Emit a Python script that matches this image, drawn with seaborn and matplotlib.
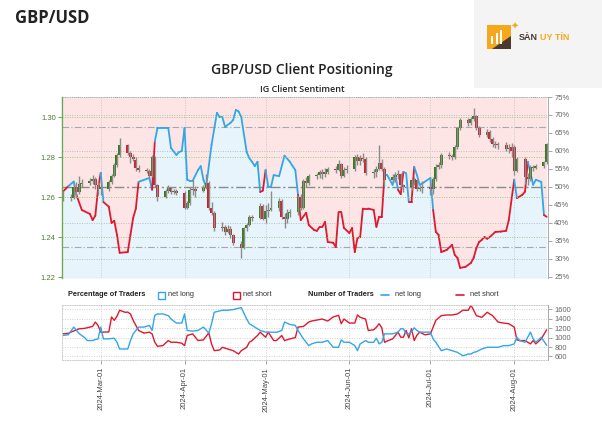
import numpy as np
import pandas as pd
import seaborn as sns
import matplotlib.pyplot as plt
import matplotlib.dates as mdates
from matplotlib.patches import Rectangle, Polygon

sns.set_style('white')
plt.rcParams['font.family'] = ['Liberation Sans', 'DejaVu Sans']

# ---- price candles (daily, GBP/USD) ----
candle_dates = pd.bdate_range('2024-02-16', '2024-08-13')
opens = [
    1.2600, 1.2595, 1.2595, 1.2650, 1.2625, 1.2665, 1.2670, 1.2680, 1.2690, 1.2660,
    1.2640, 1.2640, 1.2675, 1.2705, 1.2760, 1.2810, 1.2860, 1.2820, 1.2800, 1.2785, 1.2745,
    1.2735, 1.2730, 1.2705, 1.2800, 1.2660, 1.2600, 1.2630, 1.2645, 1.2625, 1.2630,
    1.2620, 1.2545, 1.2570, 1.2635, 1.2640, 1.2630, 1.2645, 1.2670, 1.2545, 1.2520, 1.2445,
    1.2450, 1.2425, 1.2440, 1.2410, 1.2365, 1.2345, 1.2445, 1.2460, 1.2500, 1.2495, 1.2555,
    1.2490, 1.2530, 1.2535, 1.2545, 1.2580, 1.2500, 1.2490, 1.2520, 1.2525, 1.2600, 1.2545,
    1.2680, 1.2670, 1.2705, 1.2710, 1.2725, 1.2715, 1.2725, 1.2740, 1.2735, 1.2765, 1.2705, 1.2735,
    1.2740, 1.2800, 1.2780, 1.2795, 1.2790, 1.2720, 1.2725, 1.2740, 1.2770, 1.2740,
    1.2685, 1.2700, 1.2710, 1.2715, 1.2660, 1.2650, 1.2685, 1.2685, 1.2640, 1.2645,
    1.2650, 1.2640, 1.2690, 1.2750, 1.2760, 1.2810, 1.2805, 1.2800, 1.2850, 1.2945,
    1.2985, 1.2970, 1.2990, 1.3005, 1.2945, 1.2910, 1.2925, 1.2890, 1.2865, 1.2860,
    1.2860, 1.2840, 1.2850,
    1.2850, 1.2730, 1.2790, 1.2700, 1.2690, 1.2750, 1.2745, 1.2755, 1.2775,
]
closes = [
    1.2595, 1.2600, 1.2650, 1.2625, 1.2665, 1.2670, 1.2680, 1.2690, 1.2660, 1.2640,
    1.2650, 1.2675, 1.2705, 1.2760, 1.2810, 1.2860, 1.2820, 1.2800, 1.2790, 1.2745, 1.2735,
    1.2730, 1.2705, 1.2800, 1.2660, 1.2600, 1.2630, 1.2645, 1.2625, 1.2630, 1.2620,
    1.2545, 1.2570, 1.2635, 1.2640, 1.2630, 1.2645, 1.2670, 1.2545, 1.2520, 1.2445, 1.2450,
    1.2425, 1.2440, 1.2410, 1.2370, 1.2345, 1.2445, 1.2460, 1.2500, 1.2495, 1.2555, 1.2490,
    1.2530, 1.2535, 1.2545, 1.2580, 1.2500, 1.2490, 1.2520, 1.2525, 1.2600, 1.2545, 1.2680,
    1.2670, 1.2705, 1.2710, 1.2725, 1.2715, 1.2725, 1.2740, 1.2735, 1.2765, 1.2705, 1.2735, 1.2740,
    1.2800, 1.2780, 1.2795, 1.2790, 1.2720, 1.2725, 1.2740, 1.2770, 1.2740, 1.2685,
    1.2700, 1.2710, 1.2715, 1.2660, 1.2650, 1.2685, 1.2685, 1.2640, 1.2645, 1.2650,
    1.2640, 1.2690, 1.2750, 1.2760, 1.2810, 1.2805, 1.2800, 1.2850, 1.2945, 1.2985,
    1.2970, 1.2990, 1.3005, 1.2945, 1.2910, 1.2925, 1.2890, 1.2865, 1.2860, 1.2860,
    1.2840, 1.2845, 1.2830,
    1.2730, 1.2790, 1.2700, 1.2690, 1.2750, 1.2745, 1.2755, 1.2775, 1.2865,
]
highs = [
    1.2630, 1.2615, 1.2665, 1.2675, 1.2705, 1.2690, 1.2695, 1.2710, 1.2700, 1.2680,
    1.2680, 1.2685, 1.2715, 1.2770, 1.2820, 1.2895, 1.2865, 1.2830, 1.2815, 1.2800, 1.2760,
    1.2745, 1.2740, 1.2810, 1.2805, 1.2665, 1.2640, 1.2660, 1.2650, 1.2640, 1.2640,
    1.2630, 1.2580, 1.2650, 1.2685, 1.2655, 1.2660, 1.2715, 1.2680, 1.2575, 1.2530, 1.2475,
    1.2460, 1.2460, 1.2455, 1.2415, 1.2380, 1.2450, 1.2470, 1.2510, 1.2510, 1.2570, 1.2565,
    1.2560, 1.2570, 1.2630, 1.2595, 1.2590, 1.2520, 1.2540, 1.2540, 1.2610, 1.2615, 1.2690,
    1.2700, 1.2715, 1.2720, 1.2735, 1.2740, 1.2745, 1.2750, 1.2755, 1.2785, 1.2770, 1.2750, 1.2760,
    1.2810, 1.2815, 1.2810, 1.2820, 1.2800, 1.2740, 1.2755, 1.2860, 1.2790, 1.2750,
    1.2715, 1.2725, 1.2735, 1.2720, 1.2665, 1.2695, 1.2700, 1.2690, 1.2660, 1.2680,
    1.2690, 1.2700, 1.2765, 1.2775, 1.2820, 1.2825, 1.2815, 1.2860, 1.2950, 1.2995,
    1.2995, 1.3000, 1.3045, 1.3010, 1.2955, 1.2940, 1.2935, 1.2900, 1.2880, 1.2875,
    1.2875, 1.2865, 1.2870,
    1.2860, 1.2800, 1.2800, 1.2720, 1.2760, 1.2760, 1.2765, 1.2780, 1.2870,
]
lows = [
    1.2580, 1.2580, 1.2590, 1.2600, 1.2615, 1.2650, 1.2660, 1.2665, 1.2640, 1.2610,
    1.2610, 1.2630, 1.2665, 1.2700, 1.2750, 1.2800, 1.2810, 1.2770, 1.2780, 1.2730, 1.2725,
    1.2720, 1.2695, 1.2700, 1.2650, 1.2580, 1.2595, 1.2620, 1.2615, 1.2615, 1.2610,
    1.2540, 1.2540, 1.2560, 1.2610, 1.2600, 1.2625, 1.2640, 1.2535, 1.2510, 1.2430, 1.2430,
    1.2410, 1.2420, 1.2395, 1.2360, 1.2295, 1.2340, 1.2430, 1.2455, 1.2480, 1.2490, 1.2485,
    1.2470, 1.2500, 1.2530, 1.2530, 1.2490, 1.2445, 1.2470, 1.2500, 1.2510, 1.2535, 1.2540,
    1.2650, 1.2660, 1.2690, 1.2695, 1.2690, 1.2700, 1.2715, 1.2720, 1.2730, 1.2695, 1.2700, 1.2720,
    1.2730, 1.2760, 1.2760, 1.2775, 1.2710, 1.2695, 1.2700, 1.2735, 1.2730, 1.2655,
    1.2670, 1.2675, 1.2690, 1.2650, 1.2625, 1.2635, 1.2660, 1.2630, 1.2630, 1.2620,
    1.2610, 1.2615, 1.2680, 1.2740, 1.2745, 1.2790, 1.2785, 1.2790, 1.2840, 1.2935,
    1.2955, 1.2960, 1.2980, 1.2935, 1.2900, 1.2900, 1.2875, 1.2850, 1.2845, 1.2840,
    1.2830, 1.2820, 1.2800,
    1.2710, 1.2725, 1.2665, 1.2660, 1.2680, 1.2730, 1.2740, 1.2745, 1.2765,
]

# ---- IG client sentiment: % of traders net long ----
sent_dates = [
    '2024-02-16', '2024-02-18', '2024-02-20', '2024-02-21', '2024-02-23', '2024-02-26',
    '2024-02-27', '2024-02-28', '2024-02-29', '2024-03-01', '2024-03-02', '2024-03-04',
    '2024-03-05', '2024-03-06', '2024-03-07', '2024-03-08', '2024-03-11', '2024-03-12',
    '2024-03-13', '2024-03-14', '2024-03-15', '2024-03-16', '2024-03-19', '2024-03-20',
    '2024-03-21', '2024-03-22', '2024-03-26', '2024-03-27', '2024-03-29', '2024-03-30',
    '2024-03-31', '2024-04-01', '2024-04-02', '2024-04-03', '2024-04-04', '2024-04-06',
    '2024-04-07', '2024-04-08', '2024-04-09', '2024-04-11', '2024-04-13', '2024-04-14',
    '2024-04-15', '2024-04-16', '2024-04-18', '2024-04-19', '2024-04-20', '2024-04-21',
    '2024-04-22', '2024-04-24', '2024-04-25', '2024-04-26', '2024-04-27', '2024-04-28',
    '2024-04-29', '2024-04-30', '2024-05-01', '2024-05-02', '2024-05-03', '2024-05-04',
    '2024-05-06', '2024-05-08', '2024-05-10', '2024-05-11', '2024-05-12', '2024-05-13',
    '2024-05-14', '2024-05-16', '2024-05-17', '2024-05-19', '2024-05-20', '2024-05-21',
    '2024-05-22', '2024-05-23', '2024-05-24', '2024-05-26', '2024-05-27', '2024-05-28',
    '2024-05-29', '2024-05-30', '2024-06-01', '2024-06-02', '2024-06-03', '2024-06-04',
    '2024-06-05', '2024-06-06', '2024-06-08', '2024-06-10', '2024-06-11', '2024-06-12',
    '2024-06-13', '2024-06-14', '2024-06-15', '2024-06-17', '2024-06-18', '2024-06-19',
    '2024-06-20', '2024-06-21', '2024-06-22', '2024-06-23', '2024-06-24', '2024-06-25',
    '2024-06-26', '2024-06-27', '2024-06-28', '2024-07-01', '2024-07-02', '2024-07-03',
    '2024-07-04', '2024-07-05', '2024-07-06', '2024-07-07', '2024-07-09', '2024-07-10',
    '2024-07-11', '2024-07-12', '2024-07-14', '2024-07-16', '2024-07-17', '2024-07-18',
    '2024-07-19', '2024-07-20', '2024-07-21', '2024-07-22', '2024-07-23', '2024-07-25',
    '2024-07-27', '2024-07-29', '2024-07-30', '2024-08-01', '2024-08-02', '2024-08-04',
    '2024-08-05', '2024-08-06', '2024-08-07', '2024-08-08', '2024-08-09', '2024-08-11',
    '2024-08-12', '2024-08-13',
]
sent_pct = [
    48.7, 50.2, 51.5, 47.8, 43.6, 42.5,
    40.8, 42.0, 49.5, 53.9, 45.8, 44.5,
    40.0, 40.6, 36.7, 31.7, 31.9, 36.7,
    41.4, 44.0, 51.4, 51.7, 52.5, 49.2,
    62.6, 66.4, 66.4, 60.8, 58.9, 59.7,
    60.0, 66.4, 52.0, 51.7, 51.7, 54.7,
    55.8, 52.0, 50.0, 61.7, 70.6, 69.4,
    69.4, 66.7, 67.8, 68.6, 71.4, 71.0,
    69.4, 59.7, 58.0, 57.0, 55.8, 57.0,
    48.6, 49.0, 54.7, 50.0, 50.0, 53.3,
    53.0, 58.7, 57.0, 55.8, 54.7, 47.8,
    40.8, 42.8, 39.4, 38.0, 37.8, 38.9,
    38.9, 40.3, 34.7, 34.5, 33.3, 43.0,
    43.0, 38.6, 37.2, 38.6, 31.9, 35.8,
    36.1, 44.0, 44.0, 43.6, 38.9, 41.7,
    41.7, 53.3, 53.3, 50.6, 53.3, 49.2,
    48.0, 54.2, 53.8, 45.8, 45.8, 55.6,
    53.3, 50.6, 51.0, 52.5, 43.6, 37.5,
    36.7, 31.9, 32.2, 32.5, 33.9, 31.1,
    30.3, 27.5, 27.8, 28.9, 30.3, 33.0,
    34.7, 35.3, 36.1, 35.6, 36.1, 37.5,
    37.6, 37.8, 40.8, 52.0, 46.9, 47.8,
    48.7, 57.0, 54.0, 50.6, 52.0, 51.4,
    42.2, 41.7,
]

# ---- number of traders ----
count_dates = [
    '2024-02-16', '2024-02-18', '2024-02-20', '2024-02-22', '2024-02-24', '2024-02-25',
    '2024-02-27', '2024-02-28', '2024-02-29', '2024-03-01', '2024-03-02', '2024-03-04',
    '2024-03-05', '2024-03-06', '2024-03-07', '2024-03-08', '2024-03-10', '2024-03-11',
    '2024-03-12', '2024-03-13', '2024-03-15', '2024-03-17', '2024-03-19', '2024-03-20',
    '2024-03-21', '2024-03-22', '2024-03-24', '2024-03-26', '2024-03-27', '2024-03-29',
    '2024-03-31', '2024-04-01', '2024-04-02', '2024-04-04', '2024-04-06', '2024-04-08',
    '2024-04-10', '2024-04-11', '2024-04-12', '2024-04-14', '2024-04-15', '2024-04-17',
    '2024-04-19', '2024-04-21', '2024-04-22', '2024-04-24', '2024-04-25', '2024-04-26',
    '2024-04-28', '2024-04-29', '2024-05-01', '2024-05-02', '2024-05-04', '2024-05-05',
    '2024-05-07', '2024-05-08', '2024-05-10', '2024-05-12', '2024-05-13', '2024-05-15',
    '2024-05-17', '2024-05-18', '2024-05-20', '2024-05-22', '2024-05-24', '2024-05-26',
    '2024-05-28', '2024-05-29', '2024-05-30', '2024-06-01', '2024-06-03', '2024-06-04',
    '2024-06-05', '2024-06-07', '2024-06-08', '2024-06-10', '2024-06-11', '2024-06-12',
    '2024-06-13', '2024-06-14', '2024-06-16', '2024-06-17', '2024-06-19', '2024-06-20',
    '2024-06-21', '2024-06-22', '2024-06-23', '2024-06-24', '2024-06-25', '2024-06-26',
    '2024-06-27', '2024-06-29', '2024-07-01', '2024-07-02', '2024-07-03', '2024-07-05',
    '2024-07-07', '2024-07-09', '2024-07-11', '2024-07-13', '2024-07-15', '2024-07-16',
    '2024-07-17', '2024-07-18', '2024-07-20', '2024-07-22', '2024-07-24', '2024-07-26',
    '2024-07-28', '2024-07-30', '2024-08-01', '2024-08-02', '2024-08-03', '2024-08-05',
    '2024-08-07', '2024-08-08', '2024-08-09', '2024-08-11', '2024-08-13',
]
long_count = [
    1044, 1060, 1222, 1086, 1000, 937,
    937, 960, 972, 1222, 972, 972,
    980, 987, 901, 758, 758, 758,
    937, 1079, 1222, 1222, 1258, 1151,
    1472, 1500, 1500, 1464, 1393, 1308,
    1308, 1500, 1151, 1137, 1151, 1222,
    1094, 1293, 1536, 1565, 1579, 1579,
    1593, 1622, 1636, 1393, 1293, 1258,
    1186, 1151, 1115, 1115, 1115, 1110,
    1151, 1329, 1279, 1258, 1151, 972,
    830, 866, 901, 901, 937, 794,
    794, 951, 901, 901, 830, 723,
    866, 937, 901, 901, 987, 866,
    900, 1079, 1079, 1079, 1115, 1186,
    1186, 1079, 1079, 1120, 1208, 1151,
    1115, 1115, 1115, 972, 901, 723,
    758, 723, 687, 615, 651, 651,
    687, 700, 758, 794, 794, 794,
    830, 830, 866, 1008, 937, 901,
    1115, 972, 901, 1008, 837,
]
short_count = [
    1079, 1090, 1140, 1186, 1195, 1208,
    1236, 1329, 1258, 1115, 1115, 1120,
    1436, 1365, 1450, 1579, 1536, 1540,
    1500, 1365, 1151, 1094, 1115, 1079,
    901, 815, 830, 937, 901, 901,
    880, 830, 1044, 1079, 937, 951,
    1101, 866, 723, 737, 794, 758,
    723, 651, 723, 794, 901, 937,
    1044, 1115, 1008, 1115, 937, 937,
    1044, 937, 972, 1000, 1222, 1236,
    1329, 1350, 1372, 1393, 1350, 1436,
    1472, 1293, 1393, 1308, 1308, 1479,
    1429, 1393, 1151, 1165, 1220, 1293,
    1208, 901, 951, 972, 1115, 1008,
    1008, 1151, 994, 1186, 937, 1050,
    1115, 1058, 1079, 1222, 1365, 1464,
    1479, 1479, 1500, 1579, 1579, 1686,
    1579, 1464, 1429, 1536, 1464, 1329,
    1308, 1293, 1222, 951, 937, 937,
    866, 937, 866, 972, 1165,
]

RED = '#e0182d'
BLUE = '#33a6e8'
PINK = '#fde5e6'
LBLUE = '#e7f4fc'
GREEN_AX = '#6aa84f'

W, H = 602, 426
fig = plt.figure(figsize=(W / 100, H / 100), dpi=100)


def fx(x):
    return x / W


def fy(y):
    return 1 - y / H


x0 = pd.Timestamp('2024-02-15 16:00')
x1 = pd.Timestamp('2024-08-13 12:00')

# ---- header ----
fig.text(fx(15), fy(18), 'GBP/USD', fontsize=12, fontweight='bold',
         family=['Open Sans', 'DejaVu Sans'], color='#222', va='center')
fig.patches.append(Rectangle((fx(474), fy(88)), fx(128), 88 / H, transform=fig.transFigure,
                             facecolor='#f4f4f4', edgecolor='none', zorder=0))
fig.patches.append(Rectangle((fx(487), fy(49)), fx(24), 24 / H, transform=fig.transFigure,
                             facecolor='#f6a81d', edgecolor='none', zorder=1))
fig.patches.append(Polygon([(fx(511), fy(49)), (fx(511), fy(36)), (fx(492), fy(49))],
                           closed=True, transform=fig.transFigure, facecolor='#4b3b2e',
                           edgecolor='none', zorder=2))
for bx, bh in [(491, 8), (495.5, 11), (500, 14)]:
    fig.patches.append(Rectangle((fx(bx), fy(44)), fx(2.4), bh / H, transform=fig.transFigure,
                                 facecolor='white', edgecolor='none', zorder=3))
fig.text(fx(515), fy(27), '✦', fontsize=7, color='#f6a81d', ha='center', va='center')
fig.text(fx(519), fy(38), 'SÀN', fontsize=6.5, fontweight='bold', color='#4b3b2e', va='center')
fig.text(fx(540), fy(38), 'UY TÍN', fontsize=6.5, fontweight='bold', color='#f6a81d', va='center')

fig.text(fx(302), fy(70), 'GBP/USD Client Positioning', fontsize=10, ha='center', va='center',
         family=['Open Sans', 'DejaVu Sans'], fontweight='semibold', color='#222')
fig.text(fx(302), fy(90), 'IG Client Sentiment', fontsize=6.5, ha='center', va='center',
         family=['Open Sans', 'DejaVu Sans'], fontweight='semibold', color='#222')

# ---- main panel: sentiment background (right axis) ----
ax_pct = fig.add_axes([fx(62), fy(278), fx(486), 181 / H])
ax_px = ax_pct.twinx()   # price candles drawn on top

sx = pd.to_datetime(sent_dates)
sp = np.array(sent_pct)
ax_pct.fill_between(sx, sp, 75, color=PINK, lw=0)
ax_pct.fill_between(sx, 24.7, sp, color=LBLUE, lw=0)
for lvl in [30, 40, 60, 70, 75]:
    ax_pct.axhline(lvl, color='#bdbdbd', lw=0.7, ls=(0, (1, 1.5)))
for lvl in [100 / 3, 200 / 3]:
    ax_pct.axhline(lvl, color='#a8a8a8', lw=0.8, ls=(0, (6, 2, 1, 2)))
ax_pct.axhline(50, color='#8a8a8a', lw=1.0, ls=(0, (7, 2, 1.5, 2)))
for m in pd.date_range('2024-03-01', '2024-08-01', freq='MS'):
    ax_pct.axvline(m, color='#c8c8c8', lw=0.7, ls=(0, (1, 1.5)))
for i in range(len(sp) - 1):
    c = BLUE if sp[i] >= 50 else RED
    ax_pct.plot(sx[i:i + 2], sp[i:i + 2], color=c, lw=1.3, solid_capstyle='round')
ax_pct.set_ylim(24.7, 75)
ax_pct.set_xlim(x0, x1)
ax_pct.yaxis.tick_right()
ax_pct.yaxis.set_label_position('right')
ax_pct.set_yticks(range(25, 80, 5))
ax_pct.set_yticklabels([f'{v}%' for v in range(25, 80, 5)])
ax_pct.tick_params(axis='y', labelsize=5.5, labelcolor='#666', color='#999', length=3,
                   width=0.6, pad=1.5, right=True, left=False, labelright=True, labelleft=False)
ax_pct.set_xticks([])
for s in ['top', 'bottom', 'left']:
    ax_pct.spines[s].set_visible(False)
ax_pct.spines['right'].set_color('#aaaaaa')
ax_pct.spines['right'].set_linewidth(0.7)

# ---- price candles ----
ax_px.patch.set_alpha(0)
cd = candle_dates
o = np.array(opens)
c_ = np.array(closes)
hi = np.array(highs)
lo = np.array(lows)
cols = np.where(c_ >= o, '#3a7a1f', '#c8232c')
ax_px.vlines(cd, lo, hi, color='#8c8c8c', lw=1.0)
body_lo = np.minimum(o, c_)
body_h = np.maximum(np.abs(c_ - o), 0.0004)
ax_px.bar(cd, body_h, bottom=body_lo, width=1.1, color=cols, linewidth=0)
for lvl in [1.24, 1.26, 1.28, 1.30]:
    ax_px.axhline(lvl, color='#9cc97d', lw=0.7, ls=(0, (1, 1.5)), zorder=0)
ax_px.axhline(1.2197, color=GREEN_AX, lw=0.8, ls=(0, (1, 1)))
ax_px.axhline(1.3098, color='#aaaaaa', lw=0.7, ls=(0, (1, 1)))
ax_px.set_ylim(1.2195, 1.31)
ax_px.set_xlim(x0, x1)
ax_px.yaxis.tick_left()
ax_px.set_yticks([1.22, 1.24, 1.26, 1.28, 1.30])
ax_px.set_yticklabels(['1.22', '1.24', '1.26', '1.28', '1.30'])
ax_px.tick_params(axis='y', labelsize=5.5, labelcolor='#4f7a38', color=GREEN_AX, length=3,
                  width=0.7, pad=1.5, left=True, right=False, labelleft=True, labelright=False)
ax_px.set_xticks([])
for s in ['top', 'bottom', 'right']:
    ax_px.spines[s].set_visible(False)
ax_px.spines['left'].set_color(GREEN_AX)
ax_px.spines['left'].set_linewidth(1.0)

# ---- legend row ----
ly = fy(295)
fig.text(fx(68), ly, 'Percentage of Traders', fontsize=5.3, fontweight='bold', va='center', color='#222')
fig.patches.append(Rectangle((fx(158), fy(298.5)), fx(6.5), 6.5 / H, transform=fig.transFigure,
                             facecolor='white', edgecolor=BLUE, lw=1.0))
fig.text(fx(168), ly, 'net long', fontsize=5.3, va='center', color='#333')
fig.patches.append(Rectangle((fx(233), fy(298.5)), fx(6.5), 6.5 / H, transform=fig.transFigure,
                             facecolor='white', edgecolor=RED, lw=1.0))
fig.text(fx(243), ly, 'net short', fontsize=5.3, va='center', color='#333')
fig.text(fx(308), ly, 'Number of Traders', fontsize=5.3, fontweight='bold', va='center', color='#222')
fig.lines.append(plt.Line2D([fx(381), fx(389)], [ly, ly], transform=fig.transFigure, color=BLUE, lw=1.2))
fig.text(fx(395), ly, 'net long', fontsize=5.3, va='center', color='#333')
fig.lines.append(plt.Line2D([fx(456), fx(464)], [ly, ly], transform=fig.transFigure, color=RED, lw=1.2))
fig.text(fx(470), ly, 'net short', fontsize=5.3, va='center', color='#333')

# ---- lower panel: number of traders ----
ax_n = fig.add_axes([fx(62), fy(360), fx(486), 55 / H])
cnt = pd.DataFrame({'date': pd.to_datetime(count_dates), 'long': long_count, 'short': short_count})
for lvl in range(600, 1700, 200):
    ax_n.axhline(lvl, color='#d0d0d0', lw=0.7, ls=(0, (1, 1.5)))
for m in pd.date_range('2024-03-01', '2024-08-01', freq='MS'):
    ax_n.axvline(m, color='#d0d0d0', lw=0.7, ls=(0, (1, 1.5)))
sns.lineplot(data=cnt, x='date', y='short', color=RED, lw=1.0, ax=ax_n)
sns.lineplot(data=cnt, x='date', y='long', color=BLUE, lw=1.0, ax=ax_n)
ax_n.set_xlim(x0, x1)
ax_n.set_ylim(525, 1690)
ax_n.set_xlabel('')
ax_n.set_ylabel('')
ax_n.yaxis.tick_right()
ax_n.set_yticks(range(600, 1700, 200))
ax_n.tick_params(axis='y', labelsize=5.5, labelcolor='#666', color='#999', length=3,
                 width=0.6, pad=1.5, right=True, left=False)
ax_n.set_xticks(pd.date_range('2024-03-01', '2024-08-01', freq='MS'))
ax_n.xaxis.set_major_formatter(mdates.DateFormatter('%Y-%b-%d'))
ax_n.tick_params(axis='x', labelsize=5.5, labelcolor='#444', color='#999', length=3,
                 width=0.6, pad=2, rotation=90, bottom=True)
for s in ['top', 'bottom', 'left']:
    ax_n.spines[s].set_color('#cccccc')
    ax_n.spines[s].set_linestyle((0, (1, 1.5)))
    ax_n.spines[s].set_linewidth(0.7)
ax_n.spines['right'].set_color('#aaaaaa')
ax_n.spines['right'].set_linewidth(0.7)

fig.savefig('out.png', dpi=100)
